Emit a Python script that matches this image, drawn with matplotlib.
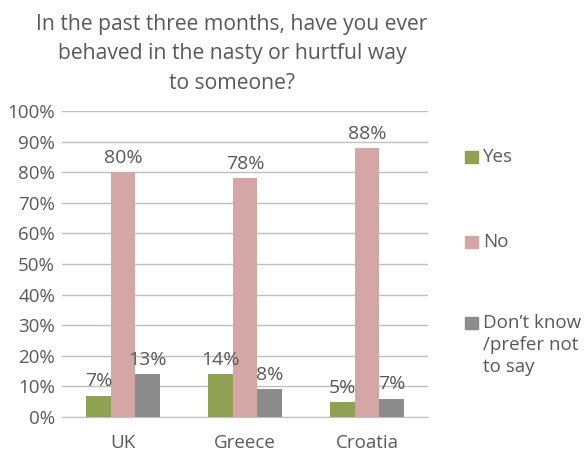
import numpy as np
import matplotlib.pyplot as plt
from matplotlib.patches import Rectangle

plt.rcParams['font.family'] = ['Open Sans', 'DejaVu Sans']

countries = ['UK', 'Greece', 'Croatia']
series = ['Yes', 'No', 'Don\u2019t know\n/prefer not\nto say']
yes = [7, 14, 5]
no = [80, 78, 88]
dont_know = [14, 9, 6]
yes_labels = ['7%', '14%', '5%']
no_labels = ['80%', '78%', '88%']
dont_know_labels = ['13%', '8%', '7%']
colors = ['#8FA152', '#D4A6A5', '#8C8C8C']
text_col = '#595959'

fig = plt.figure(figsize=(5.86, 4.51), dpi=100)
ax = fig.add_axes([62 / 586, 1 - 417 / 451, 366 / 586, 306 / 451])

x = np.arange(len(countries))
w = 0.2
values = [yes, no, dont_know]
labels = [yes_labels, no_labels, dont_know_labels]
for i in range(3):
    bars = ax.bar(x + (i - 1) * w, values[i], w, color=colors[i], zorder=3)
    for b, lab in zip(bars, labels[i]):
        ax.text(b.get_x() + b.get_width() / 2, b.get_height() + 3, lab,
                ha='center', va='baseline', fontsize=14, color=text_col, zorder=4)

ax.set_xlim(-0.5, 2.5)
ax.set_ylim(0, 100)
ax.set_yticks(range(0, 101, 10))
ax.set_yticklabels([f'{v}%' for v in range(0, 101, 10)])
ax.set_xticks(x)
ax.set_xticklabels(countries)
ax.tick_params(axis='both', length=0, labelsize=13.5, labelcolor=text_col)
ax.tick_params(axis='x', pad=12)
ax.tick_params(axis='y', pad=5)
ax.grid(axis='y', color='#BFBFBF', linewidth=1, zorder=0)
for s in ['top', 'right', 'left']:
    ax.spines[s].set_visible(False)
ax.spines['bottom'].set_color('#BFBFBF')

fig.text(232 / 586, 1 - 54 / 451,
         'In the past three months, have you ever\nbehaved in the nasty or hurtful way\nto someone?',
         ha='center', va='center', fontsize=15.2, color=text_col, linespacing=1.52)

# legend
leg_y = [157, 242, 323]
for col, lab, yy in zip(colors, series, leg_y):
    fig.add_artist(Rectangle((465 / 586, 1 - (yy + 6) / 451), 13 / 586, 12 / 451,
                             color=col, transform=fig.transFigure))
    fig.text(483 / 586, 1 - (yy - 9) / 451, lab, ha='left', va='top',
             fontsize=13.5, color=text_col, linespacing=1.3)

fig.savefig('out.png', dpi=100)
